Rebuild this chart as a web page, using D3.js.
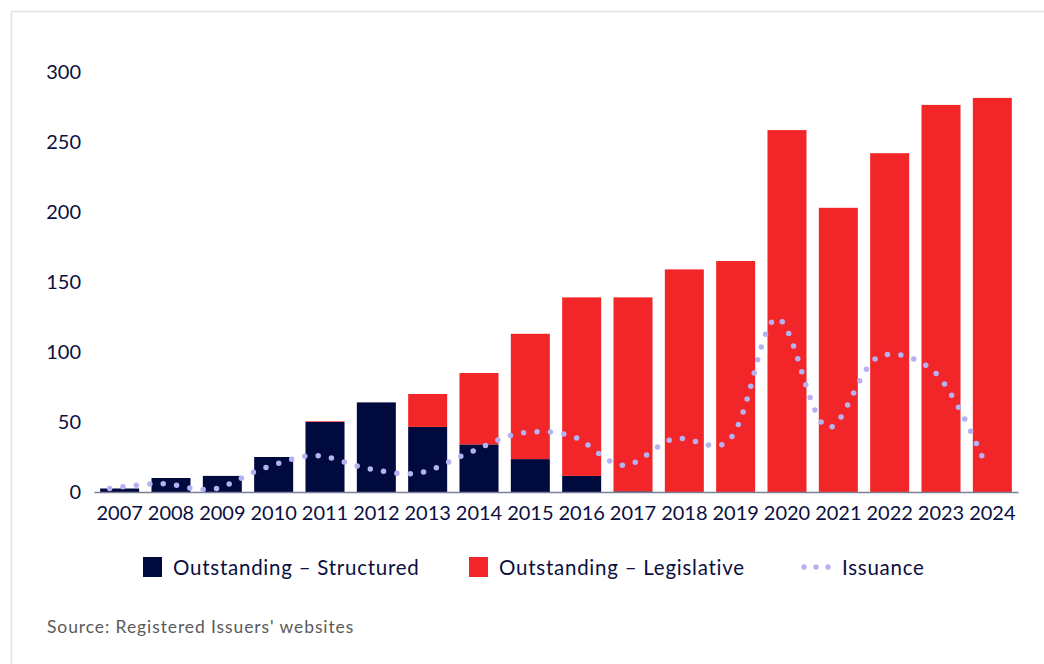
<!DOCTYPE html>
<html>
<head>
<meta charset="utf-8">
<script src="https://cdn.jsdelivr.net/npm/d3@7"></script>
<style>
  html, body { margin: 0; padding: 0; background: #fff; }
  svg { display: block; font-family: Lato, "Open Sans", sans-serif; }
</style>
</head>
<body>
<svg id="chart" width="1044" height="664"></svg>
<script>
const years = ["2007","2008","2009","2010","2011","2012","2013","2014","2015","2016","2017","2018","2019","2020","2021","2022","2023","2024"];
const structured  = [2.5, 10, 11.5, 25, 50, 64, 46.5, 34, 23.5, 11.5, 0.5, 0, 0, 0, 0, 0, 0, 0];
const legislative = [0, 0, 0, 0, 0.5, 0, 23.5, 51, 89.5, 127.5, 138.5, 159, 165, 258.5, 203, 242, 276.5, 281.5];
const issuance    = [2.5, 6, 2, 17, 26, 17, 13.5, 28, 42, 40, 19, 38, 35, 124, 46, 97, 88, 25];
const yTicks = [0, 50, 100, 150, 200, 250, 300];
const seriesNames = ["Outstanding \u2013 Structured", "Outstanding \u2013 Legislative", "Issuance"];
const source = "Source: Registered Issuers' websites";

const NAVY = "#010a3d", RED = "#f22628", LILAC = "#b4b2f2", TEXT = "#0b0f3f";

const svg = d3.select("#chart");

// light frame
svg.append("path")
  .attr("d", "M11.5,664 V11.5 H1044")
  .attr("fill", "none")
  .attr("stroke", "#e2e2e2")
  .attr("stroke-width", 1.5);

const x = d3.scaleBand().domain(years).range([94, 1018]).paddingInner(0.24).paddingOuter(0.12);
const y = d3.scaleLinear().domain([0, 300]).range([492, 72]);

// y tick labels
svg.append("g")
  .selectAll("text")
  .data(yTicks)
  .join("text")
  .attr("x", 81)
  .attr("y", d => y(d))
  .attr("dy", "0.36em")
  .attr("text-anchor", "end")
  .attr("fill", TEXT)
  .style("font-size", "20px")
  .text(d => d);

// stacked bars
const rows = years.map((yr, i) => ({ year: yr, s: structured[i], l: legislative[i] }));

svg.append("g")
  .selectAll("rect")
  .data(rows)
  .join("rect")
  .attr("x", d => x(d.year))
  .attr("width", x.bandwidth())
  .attr("y", d => y(d.s))
  .attr("height", d => y(0) - y(d.s))
  .attr("fill", NAVY);

svg.append("g")
  .selectAll("rect")
  .data(rows)
  .join("rect")
  .attr("x", d => x(d.year))
  .attr("width", x.bandwidth())
  .attr("y", d => y(d.s + d.l))
  .attr("height", d => y(d.s) - y(d.s + d.l))
  .attr("fill", RED);

// x axis
const xAxis = svg.append("g")
  .attr("transform", `translate(0,${y(0)})`)
  .call(d3.axisBottom(x).tickSize(0).tickPadding(14));
xAxis.select(".domain").attr("stroke", "#7d7f99").attr("stroke-width", 1.5);
xAxis.selectAll("text")
  .attr("fill", TEXT)
  .style("font-size", "20px")
  .style("font-family", "Lato, 'Open Sans', sans-serif");

// issuance dotted smooth line
const lineShift = -10;
const line = d3.line()
  .x((d, i) => x(years[i]) + x.bandwidth() / 2 + lineShift)
  .y(d => y(d))
  .curve(d3.curveCatmullRom.alpha(0.5));

const issPath = svg.append("path")
  .datum(issuance)
  .attr("d", line)
  .attr("fill", "none")
  .attr("stroke", LILAC)
  .attr("stroke-width", 5.5)
  .attr("stroke-linecap", "round");
// spread dots so one lands on each end
const len = issPath.node().getTotalLength();
const gap = len / Math.round(len / 13.5) * 0.998;
issPath.attr("stroke-dasharray", `0 ${gap}`);

// legend
const legend = svg.append("g").style("font-size", "20.5px").style("letter-spacing", "0.75px");
legend.append("rect").attr("x", 143).attr("y", 557).attr("width", 19).attr("height", 20).attr("fill", NAVY);
legend.append("text").attr("x", 173).attr("y", 575).attr("fill", TEXT).text(seriesNames[0]);
legend.append("rect").attr("x", 469).attr("y", 557).attr("width", 19).attr("height", 20).attr("fill", RED);
legend.append("text").attr("x", 499).attr("y", 575).attr("fill", TEXT).text(seriesNames[1]);
legend.append("path")
  .attr("d", "M804,567 H832")
  .attr("stroke", LILAC)
  .attr("stroke-width", 5.5)
  .attr("stroke-linecap", "round")
  .attr("stroke-dasharray", "0 12");
legend.append("text").attr("x", 842).attr("y", 575).attr("fill", TEXT).text(seriesNames[2]);

// source
svg.append("text")
  .attr("x", 47)
  .attr("y", 633)
  .attr("fill", "#5a5a5a")
  .style("font-size", "17.5px")
  .style("letter-spacing", "0.9px")
  .text(source);
</script>
</body>
</html>
